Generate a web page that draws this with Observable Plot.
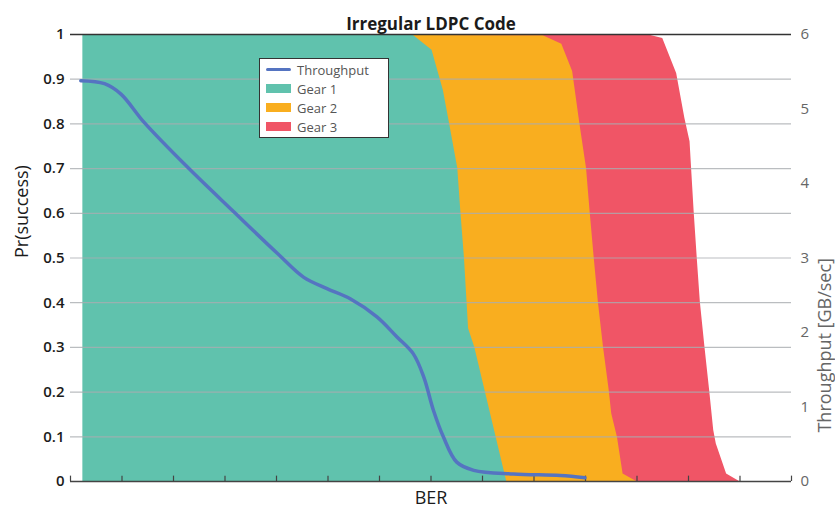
<!DOCTYPE html>
<html>
<head>
<meta charset="utf-8">
<script src="https://cdn.jsdelivr.net/npm/d3@7"></script>
<script src="https://cdn.jsdelivr.net/npm/@observablehq/plot@0.6"></script>
<style>
  body { margin: 0; background: #fff; font-family: "Open Sans", sans-serif; }
  #wrap { position: relative; width: 835px; height: 529px; }
  #legend { position: absolute; left: 259px; top: 58px; width: 130px; height: 80px;
            box-sizing: border-box; border: 1px solid #333; background: #fff;
            padding-top: 1px; }
  .row { display: flex; align-items: center; height: 19px; font-size: 13px; color: #555; }
  .sw { width: 25px; margin-left: 6px; margin-right: 6px; }
</style>
</head>
<body>
<div id="wrap"></div>
<script>
// ---------- data ----------
const title = "Irregular LDPC Code";
const xLabel = "BER";
const yLabel = "Pr(success)";
const y2Label = "Throughput [GB/sec]";
const seriesNames = ["Throughput", "Gear 1", "Gear 2", "Gear 3"];
const berTicks = [0, 1, 2, 3, 4, 5, 6, 7, 8, 9, 10, 11, 12, 13, 14];   // unlabeled BER category ticks
const prTicks = [0, 0.1, 0.2, 0.3, 0.4, 0.5, 0.6, 0.7, 0.8, 0.9, 1];
const tpTicks = [0, 1, 2, 3, 4, 5, 6];
const tpMax = 6;

const gear1X  = [0.24, 6.66, 7.02, 7.24, 7.36, 7.52, 7.58, 7.65, 7.73, 7.85, 8.47];
const gear1Pr = [1, 0.998, 0.965, 0.875, 0.801, 0.700, 0.603, 0.499, 0.342, 0.300, 0];

const gear2X  = [0.26, 9.18, 9.54, 9.75, 9.89, 10.02, 10.09, 10.17, 10.25, 10.35, 10.46, 10.51, 10.62, 10.73, 10.99];
const gear2Pr = [1, 0.997, 0.978, 0.917, 0.801, 0.700, 0.603, 0.499, 0.401, 0.300, 0.204, 0.151, 0.099, 0.017, 0];

const gear3X  = [0.26, 11.19, 11.50, 11.77, 11.93, 12.03, 12.06, 12.11, 12.17, 12.23, 12.32, 12.41, 12.49, 12.54, 12.74, 12.99];
const gear3Pr = [1, 1, 0.991, 0.913, 0.812, 0.760, 0.700, 0.603, 0.499, 0.401, 0.300, 0.204, 0.114, 0.084, 0.017, 0];

const tpX    = [0.20, 0.66, 0.98, 1.43, 2.27, 3.17, 4.02, 4.53, 4.98, 5.44, 5.95, 6.34, 6.66, 6.86, 7.05, 7.24, 7.50, 7.83, 8.60, 9.51, 9.99];
const tpGbps = [5.38, 5.34, 5.20, 4.82, 4.22, 3.62, 3.06, 2.74, 2.59, 2.45, 2.21, 1.94, 1.71, 1.40, 0.95, 0.60, 0.26, 0.15, 0.10, 0.08, 0.05];

// ---------- build ----------
const colors = { tp: "#5574c1", g1: "#60c2ad", g2: "#f9ae1f", g3: "#f05566" };
const zip = (xs, ys) => xs.map((x, i) => ({ x, v: ys[i] }));
const gear1 = zip(gear1X, gear1Pr);
const gear2 = zip(gear2X, gear2Pr);
const gear3 = zip(gear3X, gear3Pr);
const tp = zip(tpX, tpGbps);

const chart = Plot.plot({
  width: 835,
  height: 529,
  marginTop: 34,
  marginBottom: 48,
  marginLeft: 70,
  marginRight: 44,
  x: { domain: [0, 14], axis: null },
  y: { domain: [0, 1], axis: null },
  style: { fontFamily: "Open Sans, sans-serif", background: "white", overflow: "visible" },
  marks: [
    Plot.areaY(gear3, { x: "x", y: "v", fill: colors.g3 }),
    Plot.areaY(gear2, { x: "x", y: "v", fill: colors.g2 }),
    Plot.areaY(gear1, { x: "x", y: "v", fill: colors.g1 }),
    Plot.ruleY(prTicks.slice(1, -1), { stroke: "#a9adb0", strokeOpacity: 0.8, strokeWidth: 1.2 }),
    Plot.ruleY([1], { stroke: "#333", strokeWidth: 1.5 }),
    Plot.ruleY([0], { stroke: "#444", strokeWidth: 1.5 }),
    Plot.ruleX(berTicks, { y1: 0, y2: 0.012, stroke: "#444", strokeWidth: 1.2 }),
    Plot.line(tp, { x: "x", y: d => d.v / tpMax, stroke: colors.tp, strokeWidth: 3.5, curve: "catmull-rom" }),
    Plot.axisY(prTicks, { anchor: "left", tickSize: 0, tickPadding: 6, label: null,
      tickFormat: d => String(d), fontSize: 15, fontWeight: 600, fill: "#1b1b1b" }),
    Plot.axisY(tpTicks.map(t => t / tpMax), { anchor: "right", tickSize: 0, tickPadding: 9, label: null,
      tickFormat: d => String(Math.round(d * tpMax)), fontSize: 15, fill: "#666" }),
    Plot.text([title], { frameAnchor: "top", dy: -17, fontSize: 17, fontWeight: 700, fill: "#1b1b1b" }),
    Plot.text([xLabel], { frameAnchor: "bottom", dy: 22, fontSize: 18, fontWeight: 500, fill: "#1b1b1b" }),
    Plot.text([yLabel], { frameAnchor: "left", dx: -48, rotate: -90, fontSize: 18, fontWeight: 500, fill: "#1b1b1b" }),
    Plot.text([y2Label], { frameAnchor: "right", dx: 34, rotate: -90, fontSize: 18, fill: "#666" })
  ]
});

const wrap = document.getElementById("wrap");
wrap.appendChild(chart);

// legend overlay
const legend = document.createElement("div");
legend.id = "legend";
const swatches = [
  { name: seriesNames[0], color: colors.tp, line: true },
  { name: seriesNames[1], color: colors.g1 },
  { name: seriesNames[2], color: colors.g2 },
  { name: seriesNames[3], color: colors.g3 }
];
for (const s of swatches) {
  const row = document.createElement("div");
  row.className = "row";
  const sw = document.createElement("div");
  sw.className = "sw";
  sw.style.background = s.color;
  sw.style.height = s.line ? "3.5px" : "9px";
  if (s.line) sw.style.borderRadius = "2px";
  const lab = document.createElement("span");
  lab.textContent = s.name;
  row.appendChild(sw);
  row.appendChild(lab);
  legend.appendChild(row);
}
wrap.appendChild(legend);
</script>
</body>
</html>
